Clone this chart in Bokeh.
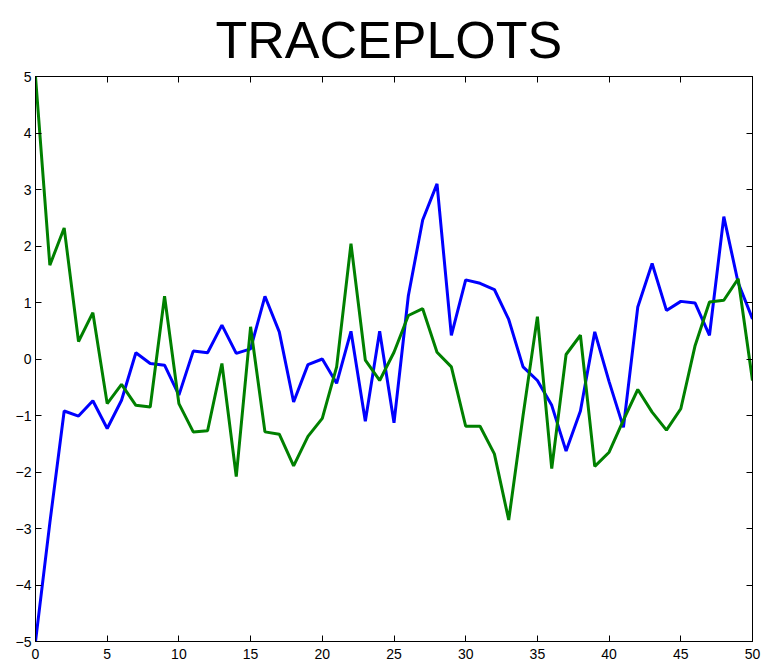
from bokeh.plotting import figure
from bokeh.models import Range1d, LinearAxis, FixedTicker
from bokeh.embed import file_html
from bokeh.resources import INLINE

# Iteration index shared by both chains
iterations = list(range(51))

# Chain 1 (blue), started at -5
chain_blue = [-5.00, -2.90, -0.92, -1.01, -0.74, -1.23, -0.73, 0.11, -0.08, -0.11,
              -0.64, 0.14, 0.11, 0.60, 0.10, 0.18, 1.11, 0.48, -0.76, -0.10,
              0.00, -0.43, 0.49, -1.10, 0.49, -1.13, 1.12, 2.46, 3.10, 0.42,
              1.40, 1.34, 1.23, 0.70, -0.14, -0.38, -0.82, -1.63, -0.92, 0.48,
              -0.40, -1.21, 0.92, 1.69, 0.86, 1.02, 0.99, 0.42, 2.52, 1.35,
              0.71]

# Chain 2 (green), started at +5
chain_green = [5.00, 1.66, 2.32, 0.31, 0.82, -0.79, -0.45, -0.82, -0.85, 1.11,
               -0.79, -1.29, -1.27, -0.08, -2.08, 0.57, -1.29, -1.33, -1.89, -1.37,
               -1.05, -0.14, 2.04, -0.02, -0.38, 0.12, 0.77, 0.89, 0.12, -0.14,
               -1.19, -1.19, -1.68, -2.85, -1.00, 0.75, -1.94, 0.08, 0.42, -1.90,
               -1.65, -1.08, -0.54, -0.94, -1.26, -0.88, 0.24, 1.01, 1.04, 1.42,
               -0.38]

x_ticks = [0, 5, 10, 15, 20, 25, 30, 35, 40, 45, 50]
y_ticks = [-5, -4, -3, -2, -1, 0, 1, 2, 3, 4, 5]

title_text = "TRACEPLOTS"

FONT = "Liberation Sans"


def fmt(v):
    return str(v).replace("-", "\u2212")


p = figure(width=762, height=661, output_backend="svg", toolbar_location=None,
           x_range=Range1d(x_ticks[0], x_ticks[-1]),
           y_range=Range1d(y_ticks[0], y_ticks[-1]),
           x_axis_location=None, y_axis_location=None,
           min_border_left=35, min_border_right=10,
           min_border_top=76, min_border_bottom=20)

p.title.text = title_text
p.title.align = "left"
p.title.offset = 180
p.title.text_font = FONT
p.title.text_font_size = "52px"
p.title.text_font_style = "normal"
p.title.text_color = "black"
p.title.standoff = 16

p.background_fill_color = "white"
p.border_fill_color = "white"
p.outline_line_color = "black"
p.outline_line_width = 1
p.xgrid.visible = False
p.ygrid.visible = False


def make_axis(ticks, show_labels, standoff=4):
    ax = LinearAxis(ticker=FixedTicker(ticks=ticks))
    ax.axis_line_color = "black"
    ax.major_tick_line_color = "black"
    ax.major_tick_in = 6
    ax.major_tick_out = 0
    ax.minor_tick_line_color = None
    ax.major_label_text_font = FONT
    ax.major_label_text_font_size = "14px"
    ax.major_label_text_color = "black"
    ax.major_label_standoff = standoff
    if show_labels:
        ax.major_label_overrides = {t: fmt(t) for t in ticks}
    else:
        ax.major_label_text_font_size = "0px"
        ax.major_label_standoff = 0
    return ax


p.add_layout(make_axis(x_ticks, True, standoff=7), "below")
p.add_layout(make_axis(y_ticks, True, standoff=4), "left")
p.add_layout(make_axis(x_ticks, False), "above")
p.add_layout(make_axis(y_ticks, False), "right")

p.line(iterations, chain_blue, line_color="#0000ff", line_width=3)
p.line(iterations, chain_green, line_color="#008000", line_width=3)

open("out.html", "w").write(file_html(p, INLINE))
